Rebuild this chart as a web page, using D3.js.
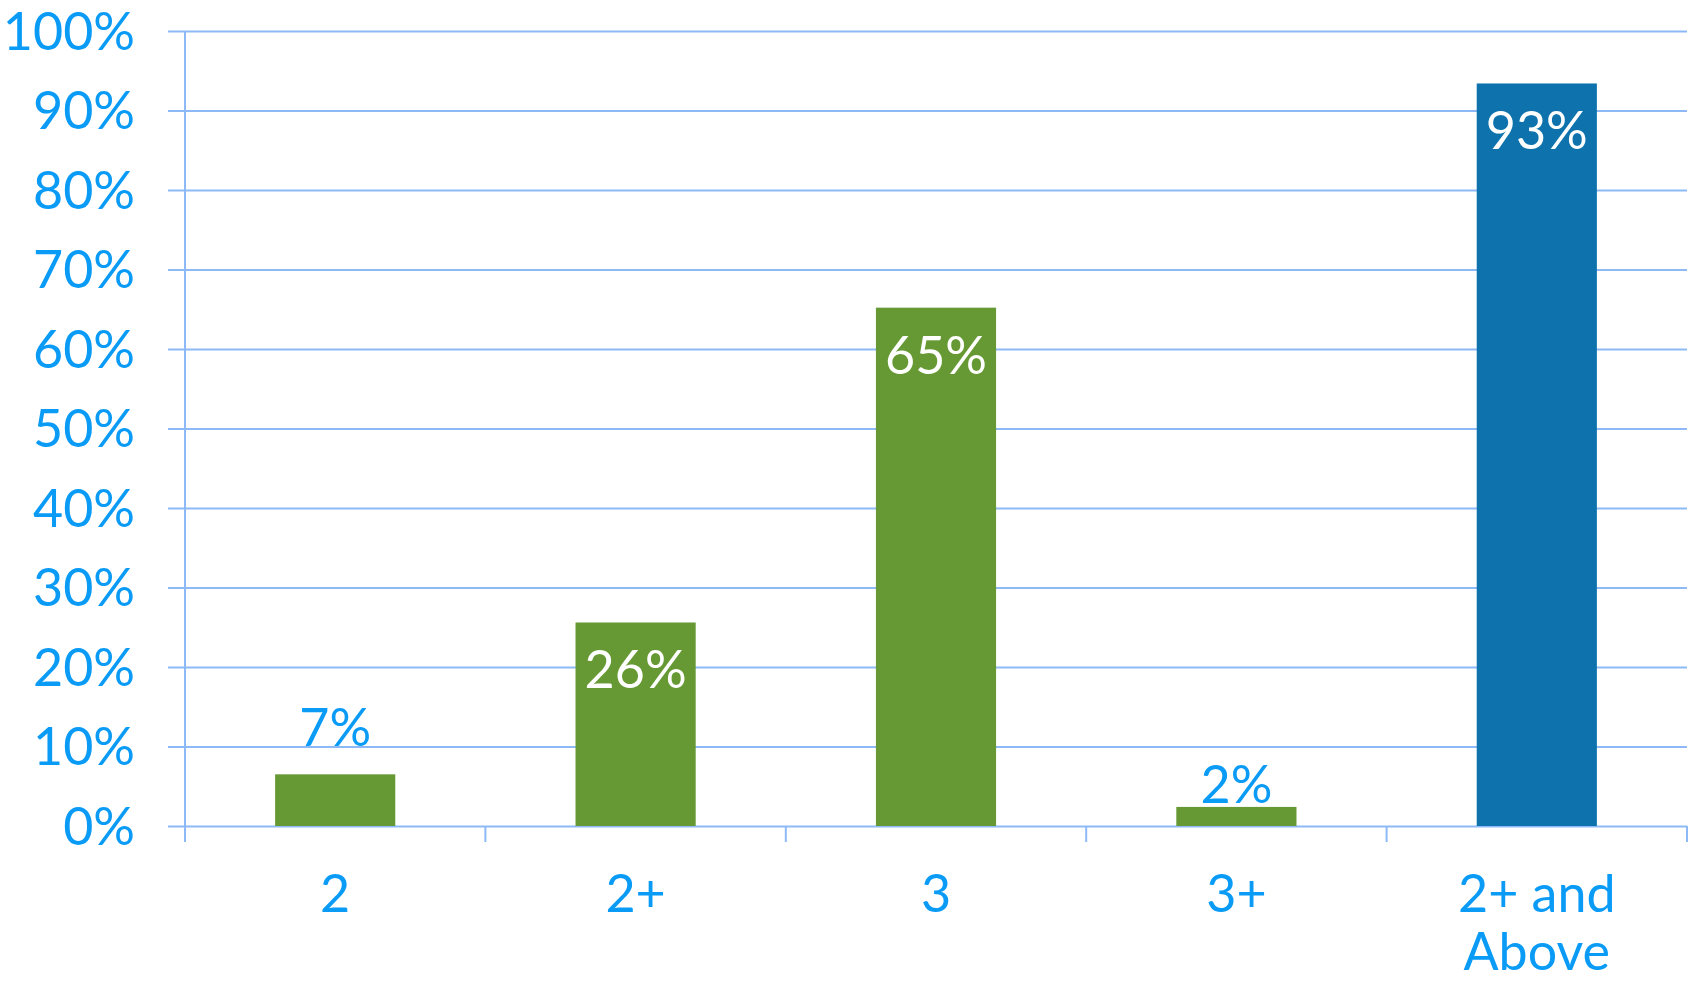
<!DOCTYPE html>
<html>
<head>
<meta charset="utf-8">
<script src="https://cdn.jsdelivr.net/npm/d3@7"></script>
<style>
  html, body { margin: 0; padding: 0; background: #ffffff; }
  svg { display: block; }
  text { font-family: Lato, "Noto Sans", sans-serif; }
</style>
</head>
<body>
<svg id="chart" width="1692" height="984"></svg>
<script>
const categories = ["2", "2+", "3", "3+", "2+ and Above"];
const values = [6.5, 25.6, 65.2, 2.4, 93.4];
const valueLabels = ["7%", "26%", "65%", "2%", "93%"];
const yTicks = [0, 10, 20, 30, 40, 50, 60, 70, 80, 90, 100];
const yTickLabels = ["0%", "10%", "20%", "30%", "40%", "50%", "60%", "70%", "80%", "90%", "100%"];

(function () {
const mLeft = 185, mRight = 1687, mTop = 31, mBottom = 826;
const textColor = "#0a9bf7";
const gridColor = "#8db9f7";
const green = "#669933";
const blue = "#0e73ad";

const svg = d3.select("#chart");

const x = d3.scaleBand().domain(categories).range([mLeft, mRight]).paddingInner(0.6).paddingOuter(0.3);
const xb = d3.scaleBand().domain(categories).range([mLeft, mRight]).padding(0);
const y = d3.scaleLinear().domain([0, 100]).range([mBottom, mTop]);

// Y axis with gridlines
const yAxis = d3.axisLeft(y)
  .tickValues(yTicks)
  .tickFormat((d, i) => yTickLabels[i])
  .tickSize(-(mRight - (mLeft - 17)))
  .tickPadding(33);

const gy = svg.append("g").attr("transform", `translate(${mLeft - 17},0)`).call(yAxis);
gy.select(".domain").remove();
gy.selectAll(".tick line").attr("stroke", gridColor).attr("stroke-width", 2);
gy.selectAll(".tick text")
  .attr("fill", textColor)
  .attr("font-size", 52)
  .attr("dy", "0.35em")
  .style("font-family", "Lato, 'Noto Sans', sans-serif");

// vertical axis line
svg.append("line")
  .attr("x1", mLeft).attr("x2", mLeft)
  .attr("y1", mTop).attr("y2", mBottom + 16)
  .attr("stroke", gridColor).attr("stroke-width", 2);

// X axis category boundary ticks
const boundaries = categories.map(c => xb(c)).concat([xb.range()[1]]);
svg.append("g").selectAll("line").data(boundaries).join("line")
  .attr("x1", d => d).attr("x2", d => d)
  .attr("y1", mBottom).attr("y2", mBottom + 16)
  .attr("stroke", gridColor).attr("stroke-width", 2);

// Bars
const data = categories.map((c, i) => ({ c, v: values[i], label: valueLabels[i], i }));
svg.append("g").selectAll("rect").data(data).join("rect")
  .attr("x", d => x(d.c))
  .attr("width", x.bandwidth())
  .attr("y", d => y(d.v))
  .attr("height", d => y(0) - y(d.v))
  .attr("fill", d => d.i === categories.length - 1 ? blue : green);

// Value labels
svg.append("g").selectAll("text").data(data).join("text")
  .attr("x", d => x(d.c) + x.bandwidth() / 2)
  .attr("y", d => {
    if (d.v >= 10) return y(d.v) + 66;
    return d.v < 5 ? y(d.v) - 4 : y(d.v) - 28;
  })
  .attr("text-anchor", "middle")
  .attr("font-size", 52)
  .attr("fill", d => d.v >= 10 ? "#ffffff" : textColor)
  .text(d => d.label);

// X labels
const xl = svg.append("g").selectAll("text").data(categories).join("text")
  .attr("x", d => xb(d) + xb.bandwidth() / 2)
  .attr("y", 912)
  .attr("text-anchor", "middle")
  .attr("font-size", 52)
  .attr("fill", textColor);

xl.each(function(d) {
  const t = d3.select(this);
  const lines = d === "2+ and Above" ? ["2+ and", "Above"] : [d];
  lines.forEach((ln, k) => {
    t.append("tspan")
      .attr("x", xb(d) + xb.bandwidth() / 2)
      .attr("dy", k === 0 ? 0 : 58)
      .text(ln);
  });
});
})();
</script>
</body>
</html>
